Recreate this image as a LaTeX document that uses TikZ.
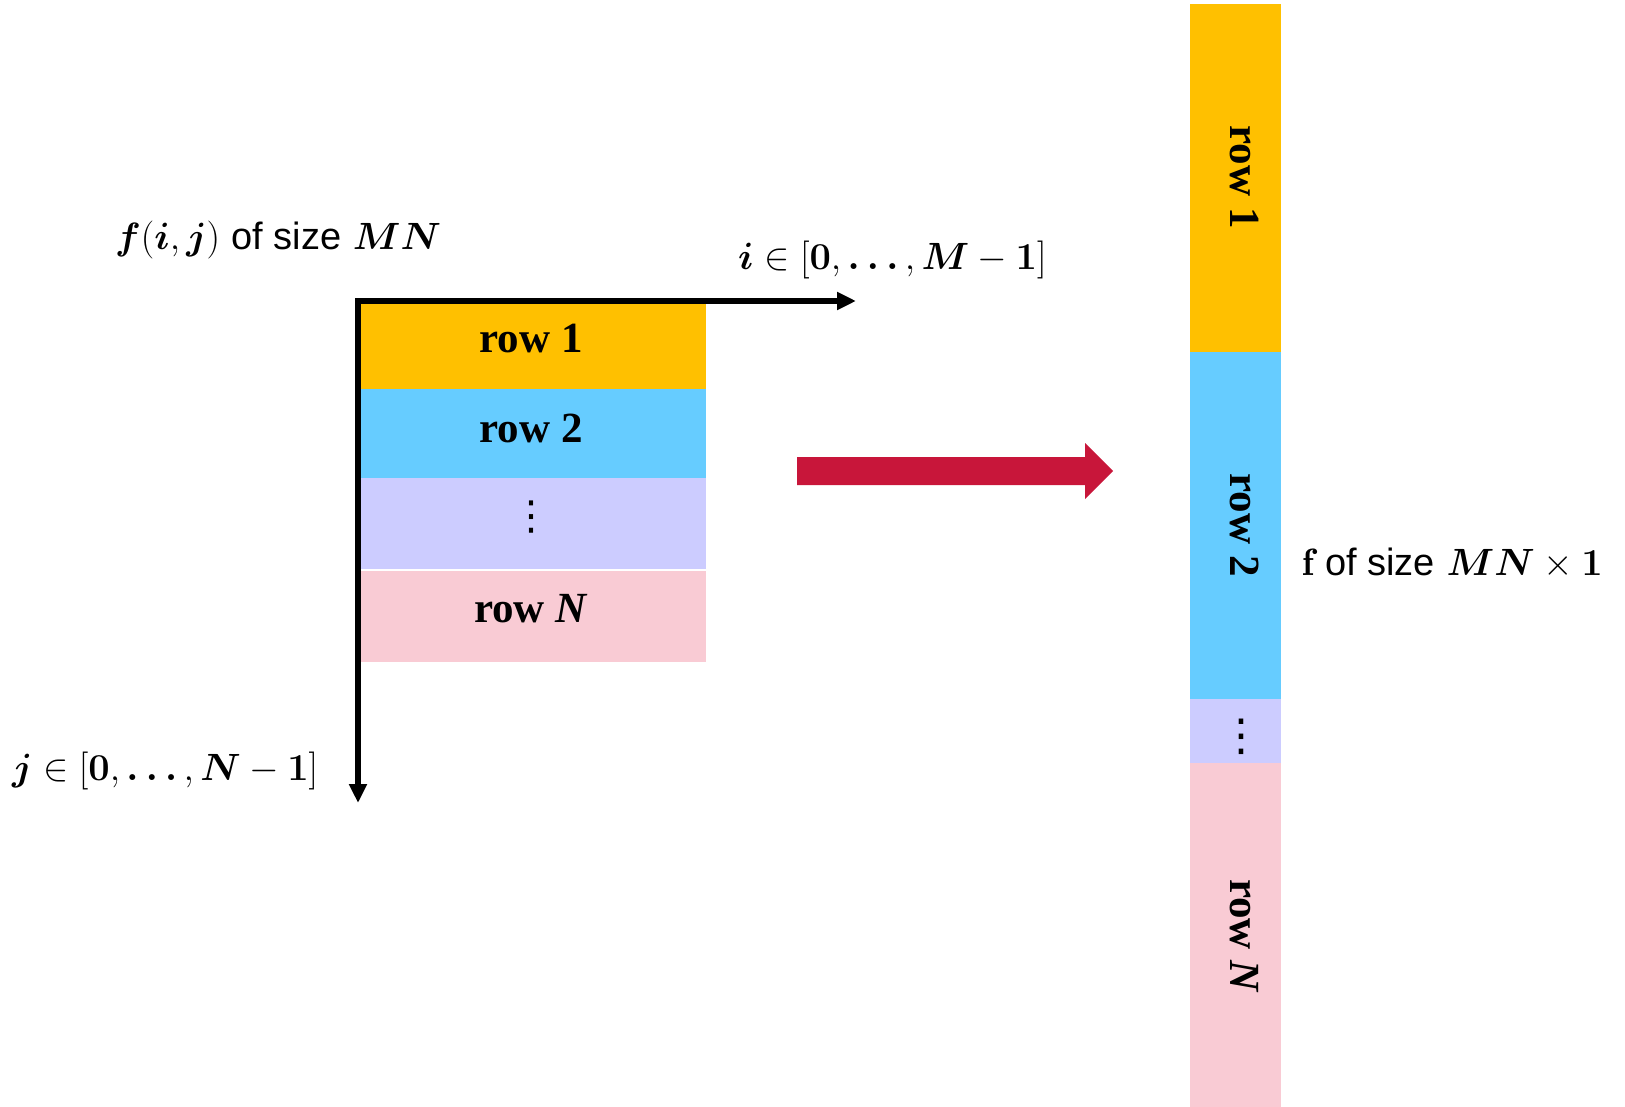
\RequirePackage{fix-cm}
\documentclass[tikz,border=0pt]{standalone}
\usepackage{amsmath}
\usepackage{bm}
\usepackage{fontspec}
\newfontfamily\arialfont{Liberation Sans}
\newfontfamily\cellfont{Liberation Serif}
\newfontfamily\symfont{DejaVu Sans}
\usetikzlibrary{arrows.meta}

\definecolor{rowA}{HTML}{FFC000}
\definecolor{rowB}{HTML}{66CCFF}
\definecolor{rowC}{HTML}{CCCCFF}
\definecolor{rowD}{HTML}{F9CBD4}
\definecolor{flowred}{HTML}{C8163A}

\newcommand{\sizetext}{{\fontsize{38}{40}\selectfont\arialfont of size}}

\tikzset{
  cellbox/.style={rectangle, inner sep=0pt, outer sep=0pt, draw=none, anchor=north west},
  rowtext/.style={font=\fontsize{43}{45}\selectfont\cellfont\bfseries, anchor=base, inner sep=0pt},
  dotsmark/.style={inner sep=0pt, font=\fontsize{#1}{#1}\selectfont\symfont},
  mathlabel/.style={font=\fontsize{38}{42}\selectfont, anchor=base west, inner sep=0pt},
  axis/.style={line width=5.8pt,
    {Triangle[length=19pt,width=17pt]}-{Triangle[length=19pt,width=17pt]}},
}

\begin{document}
\begin{tikzpicture}[x=1pt, y=-1pt]
\useasboundingbox (0,0) rectangle (1625,1107);

% the M x N image, one band per row
\node[cellbox, fill=rowA, minimum width=345pt, minimum height=85pt] (L1) at (361,304) {};
\node[cellbox, fill=rowB, minimum width=345pt, minimum height=89pt] (L2) at (361,389) {};
\node[cellbox, fill=rowC, minimum width=345pt, minimum height=91pt] (L3) at (361,478) {};
\node[cellbox, fill=rowD, minimum width=345pt, minimum height=91pt] (L4) at (361,571) {};

\node[rowtext] (L1t) at (531,352.5) {row 1};
\node[rowtext] (L2t) at (531,442.5) {row 2};
\node[dotsmark=40] (L3t) at (531,517) {⋮};
\node[rowtext] (L4t) at (531,622) {row \textit{N}};

% index axes
\coordinate (origin) at (358,301);
\coordinate (iend) at (856,301);
\coordinate (jend) at (358,803);
\draw[axis] (iend) -- (origin) -- (jend);

\node[mathlabel] (title) at (115,250)
  {$\bm{f}(\bm{i},\bm{j})$ \sizetext{} $\bm{MN}$};
\node[mathlabel] (ilabel) at (738,270)
  {$\bm{i}\in[\bm{0},\bm{\ldots},\bm{M}-\bm{1}]$};
\node[mathlabel] (jlabel) at (12,780)
  {$\bm{j}\in[\bm{0},\bm{\ldots},\bm{N}-\bm{1}]$};

% flattening arrow
\coordinate (fa) at (797,457);
\coordinate (fb) at (1085,457);
\coordinate (fc) at (1085,443);
\coordinate (ftip) at (1113,471);
\coordinate (fd) at (1085,499);
\coordinate (fe) at (1085,485);
\coordinate (ff) at (797,485);
\fill[flowred] (fa) -- (fb) -- (fc) -- (ftip) -- (fd) -- (fe) -- (ff) -- cycle;

% the MN x 1 column vector
\node[cellbox, fill=rowA, minimum width=91pt, minimum height=348pt] (R1) at (1190,4) {};
\node[cellbox, fill=rowB, minimum width=91pt, minimum height=347pt] (R2) at (1190,352) {};
\node[cellbox, fill=rowC, minimum width=91pt, minimum height=64pt] (R3) at (1190,699) {};
\node[cellbox, fill=rowD, minimum width=91pt, minimum height=344pt] (R4) at (1190,763) {};

\node[rowtext, rotate=-90] (R1t) at (1230,177) {row 1};
\node[rowtext, rotate=-90] (R2t) at (1230,525) {row 2};
\node[dotsmark=44] (R3t) at (1241,737) {⋮};
\node[rowtext, rotate=-90] (R4t) at (1230,936) {row \textit{N}};

\node[mathlabel] (vlabel) at (1302,575)
  {$\mathbf{f}$ \sizetext{} $\bm{MN}\times\bm{1}$};
\end{tikzpicture}
\end{document}
